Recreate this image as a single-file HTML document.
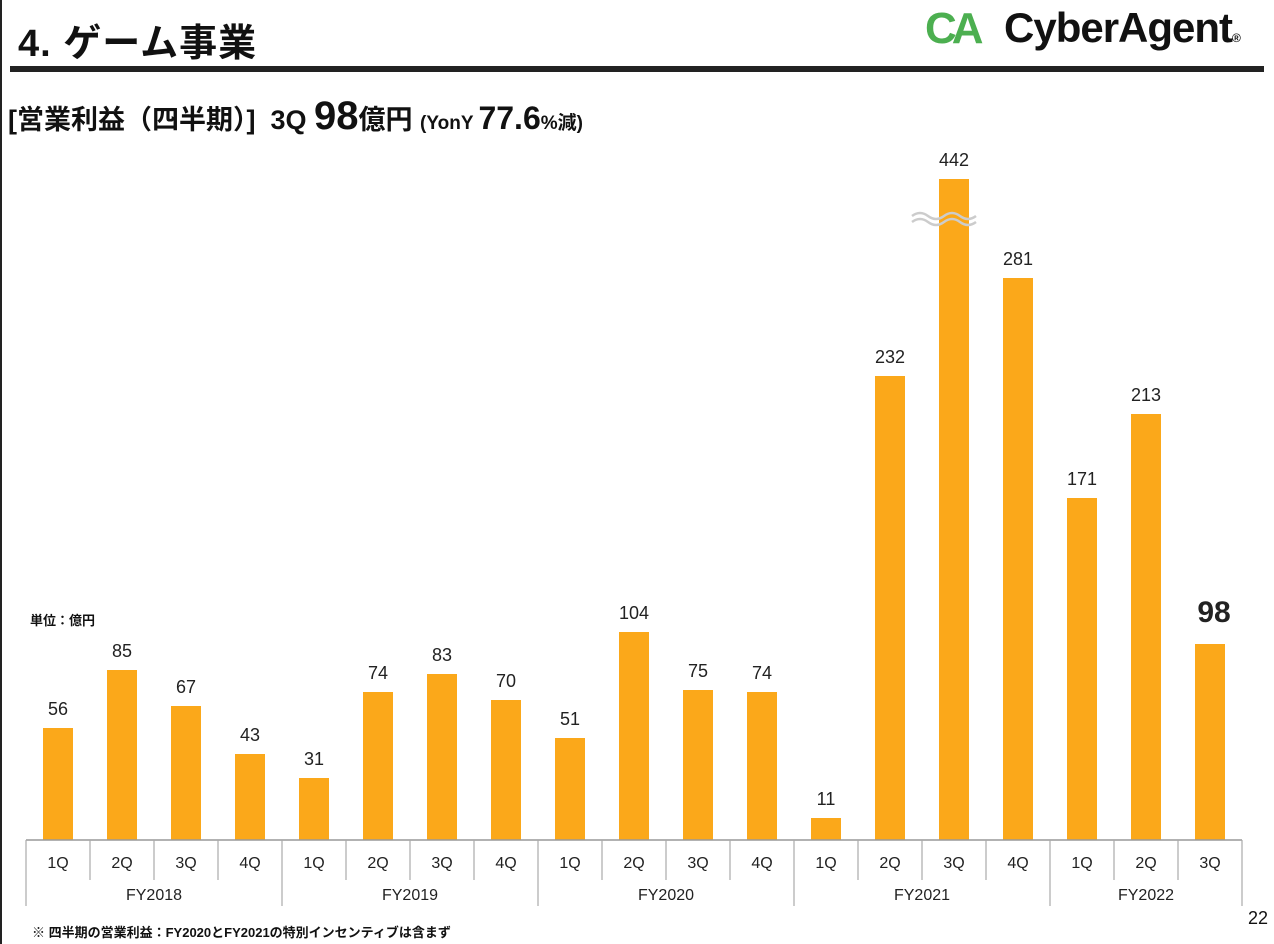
<!DOCTYPE html>
<html><head><meta charset="utf-8"><style>
body{margin:0;width:1274px;height:944px;background:#fff;overflow:hidden;position:relative;font-family:"Liberation Sans","Noto Sans CJK JP",sans-serif;color:#111}
.a{position:absolute;white-space:nowrap}
</style></head><body>
<div class="a" style="left:0;top:0;width:2px;height:944px;background:#222"></div>
<div class="a" style="left:18px;top:12px;font-size:38px;font-weight:bold;letter-spacing:1px">4. ゲーム事業</div>
<div class="a" style="left:10px;top:66px;width:1254px;height:6px;background:#222"></div>
<div class="a" style="left:925px;top:4px;font-size:44px;font-weight:bold;color:#4caf50;letter-spacing:-5px">CA</div>
<div class="a" style="left:1004px;top:4px;font-size:42px;font-weight:bold;color:#111;letter-spacing:-1px">CyberAgent<span style="font-size:12px">®</span></div>
<div class="a" style="left:8px;top:94px;font-size:27px;font-weight:bold">[営業利益（四半期）] &nbsp;3Q <span style="font-size:40px">98</span>億円 <span style="font-size:19px">(YonY </span><span style="font-size:32px">77.6</span><span style="font-size:19px">%減)</span></div>
<div class="a" style="left:30px;top:610px;font-size:13px;font-weight:bold">単位：億円</div>
<svg class="a" style="left:0;top:0" width="1274" height="944" font-family="Liberation Sans, sans-serif">
<g fill="#fba81a" id="bars"></g>
<g id="lbl" font-size="18" text-anchor="middle" fill="#222"></g>
<line x1="26" y1="840" x2="1242" y2="840" stroke="#999" stroke-width="1.5"/>
<g stroke="#aaa" stroke-width="1.2" id="ticks"></g>
<g font-size="16" text-anchor="middle" fill="#222" id="ql"></g>
<path d="M912 222 q8 -6 16 0 t16 0 t16 0 t16 0 M912 216 q8 -6 16 0 t16 0 t16 0 t16 0" stroke="#ccc" stroke-width="2.5" fill="none"/>
</svg>
<div class="a" style="left:32px;top:922px;font-size:13px;font-weight:bold">※ 四半期の営業利益：FY2020とFY2021の特別インセンティブは含まず</div>
<div class="a" style="left:1248px;top:908px;font-size:18px">22</div>
<script>
(function(){
var v=[56,85,67,43,31,74,83,70,51,104,75,74,11,232,442,281,171,213,98];
var ns="http://www.w3.org/2000/svg";
function el(p,t,a,txt){var e=document.createElementNS(ns,t);for(var k in a)e.setAttribute(k,a[k]);if(txt!==undefined)e.textContent=txt;document.getElementById(p).appendChild(e);}
for(var i=0;i<19;i++){var c=58+64*i;var yt=i==14?179:840-2*v[i];
el("bars","rect",{x:c-15,y:yt,width:30,height:840-yt});
if(i==18)el("lbl","text",{x:c+4,y:yt-22,"font-size":30,"font-weight":"bold"},"98");
else el("lbl","text",{x:c,y:yt-13},String(v[i]));
el("ql","text",{x:c,y:868},(i%4+1)+"Q");}
for(var i=0;i<=19;i++){var x=26+64*i;var big=(i%4==0)||i==19;el("ticks","line",{x1:x,y1:840,x2:x,y2:big?906:880});}
var fy=["FY2018","FY2019","FY2020","FY2021","FY2022"];
for(var j=0;j<5;j++){var x0=26+256*j,x1=j==4?1242:x0+256;el("ql","text",{x:(x0+x1)/2,y:900},fy[j]);}
var w=document.querySelector("path");w.parentNode.appendChild(w);
})();
</script>
</body></html>
